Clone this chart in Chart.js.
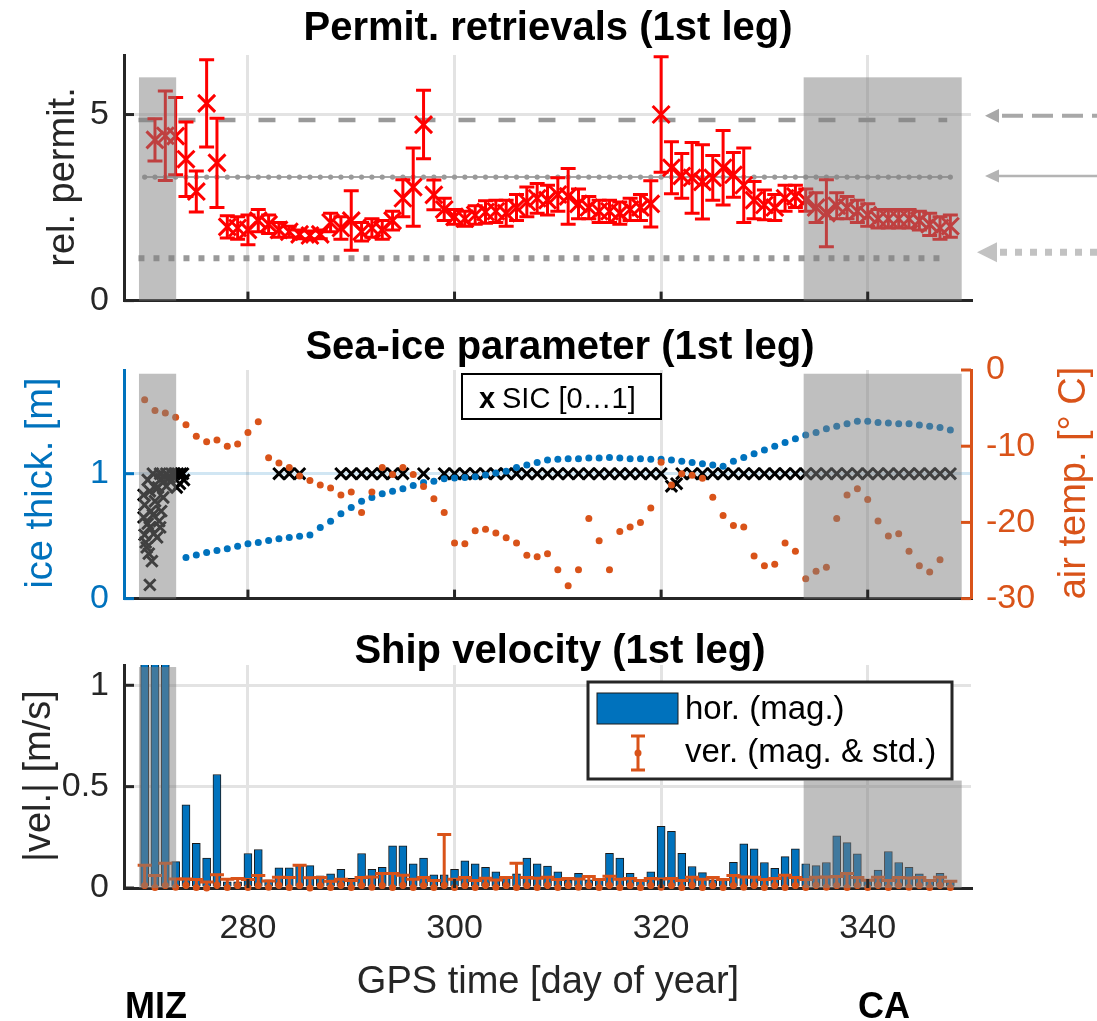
<!DOCTYPE html>
<html>
<head>
<meta charset="utf-8">
<script src="https://cdn.jsdelivr.net/npm/chart.js@4.4.0/dist/chart.umd.min.js"></script>
<style>
  html, body { margin: 0; padding: 0; background: #fff; }
  #wrap { position: relative; width: 1097px; height: 1021px; overflow: hidden; }
  canvas { position: absolute; left: 0; display: block; }
</style>
</head>
<body>
<div id="wrap">
  <canvas id="velocity" width="1097" height="401" style="top:620px"></canvas>
  <canvas id="seaice" width="1097" height="316" style="top:318px"></canvas>
  <canvas id="permit" width="1097" height="336" style="top:0"></canvas>
</div>
<script>
Chart.defaults.font.family = '"Liberation Sans", Arial, Helvetica, sans-serif';
Chart.defaults.color = '#262626';

// ---------- data ----------
const xTicks = [280, 300, 320, 340];
const mizSpan = [269.45, 273.05];
const caSpan = [333.8, 349.1];

// permittivity retrievals (top)
const permitTicks = [0, 5];
const permitDays = [271, 272, 273, 274, 275, 276, 277, 278, 279, 280,
  281, 282, 283, 284, 285, 286, 287, 288, 289, 290,
  291, 292, 293, 294, 295, 296, 297, 298, 299, 300,
  301, 302, 303, 304, 305, 306, 307, 308, 309, 310,
  311, 312, 313, 314, 315, 316, 317, 318, 319, 320,
  321, 322, 323, 324, 325, 326, 327, 328, 329, 330,
  331, 332, 333, 334, 335, 336, 337, 338, 339, 340,
  341, 342, 343, 344, 345, 346, 347, 348];
const permitValues = [4.32, 4.43, 4.42, 3.8, 2.93, 5.3, 3.7, 1.98, 1.95, 1.9,
  2.15, 2.05, 1.9, 1.85, 1.78, 1.75, 1.78, 2.1, 1.95, 2.15,
  1.85, 1.95, 1.9, 2.15, 2.75, 3.05, 4.73, 2.84, 2.45, 2.25,
  2.2, 2.3, 2.38, 2.4, 2.35, 2.5, 2.65, 2.75, 2.7, 2.85,
  2.8, 2.6, 2.5, 2.4, 2.4, 2.35, 2.45, 2.5, 2.6, 5.0,
  3.57, 3.35, 3.3, 3.19, 3.3, 3.57, 3.38, 3.1, 2.7, 2.57,
  2.5, 2.75, 2.8, 2.7, 2.5, 2.35, 2.55, 2.5, 2.4, 2.3,
  2.2, 2.2, 2.2, 2.2, 2.15, 2.05, 1.95, 2.0];
const permitErr = [0.57, 1.2, 1.04, 1.0, 0.55, 1.17, 1.2, 0.3, 0.3, 0.4,
  0.3, 0.25, 0.2, 0.15, 0.12, 0.12, 0.12, 0.25, 0.3, 0.8,
  0.25, 0.25, 0.25, 0.25, 0.5, 1.05, 0.92, 0.4, 0.3, 0.2,
  0.2, 0.25, 0.3, 0.3, 0.35, 0.35, 0.4, 0.4, 0.4, 0.45,
  0.75, 0.4, 0.3, 0.3, 0.3, 0.3, 0.3, 0.35, 0.62, 1.55,
  0.7, 0.6, 0.95, 1.0, 0.6, 1.0, 0.6, 1.0, 0.5, 0.4,
  0.35, 0.35, 0.3, 0.3, 0.4, 0.9, 0.35, 0.3, 0.3, 0.3,
  0.25, 0.25, 0.25, 0.25, 0.25, 0.3, 0.3, 0.3];
const refDashed = 4.85;
const refSolid = 3.32;
const refDotted = 1.14;
const refSpan = [269.4, 347.7];
const arrowLevels = [4.97, 3.35, 1.3];

// sea-ice parameters (middle)
const iceTicks = [0, 1];
const tempTicks = [-30, -20, -10, 0];
const tempDays = [270, 271, 272, 273, 274, 275, 276, 277, 278, 279,
  280, 281, 282, 283, 284, 285, 286, 287, 288, 289,
  290, 291, 292, 293, 294, 295, 296, 297, 298, 299,
  300, 301, 302, 303, 304, 305, 306, 307, 308, 309,
  310, 311, 312, 313, 314, 315, 316, 317, 318, 319,
  320, 321, 322, 323, 324, 325, 326, 327, 328, 329,
  330, 331, 332, 333, 334, 335, 336, 337, 338, 339,
  340, 341, 342, 343, 344, 345, 346, 347];
const tempValues = [-3.9, -5.3, -5.65, -6.2, -7.2, -8.7, -9.4, -9.2, -10.0, -9.7,
  -8.2, -6.8, -11.5, -12.2, -12.8, -13.9, -14.5, -15.1, -15.5, -16.4,
  -16.0, -18.7, -16.0, -12.8, -13.7, -12.8, -13.7, -15.3, -16.9, -18.7,
  -22.7, -22.8, -21.1, -20.9, -21.4, -22.0, -22.7, -24.3, -24.5, -24.1,
  -26.2, -28.3, -26.2, -19.5, -22.4, -26.2, -21.2, -20.6, -20.0, -18.1,
  -12.1, -15.1, -13.6, -13.8, -14.2, -16.7, -19.1, -20.4, -20.6, -24.4,
  -25.7, -25.5, -22.7, -23.8, -27.4, -26.4, -25.9, -19.5, -16.4, -15.6,
  -17.0, -19.8, -21.8, -21.5, -23.8, -25.7, -26.5, -24.9];
const iceDays = [274, 275, 276, 277, 278, 279,
  280, 281, 282, 283, 284, 285, 286, 287, 288, 289,
  290, 291, 292, 293, 294, 295, 296, 297, 298, 299,
  300, 301, 302, 303, 304, 305, 306, 307, 308, 309,
  310, 311, 312, 313, 314, 315, 316, 317, 318, 319,
  320, 321, 322, 323, 324, 325, 326, 327, 328, 329,
  330, 331, 332, 333, 334, 335, 336, 337, 338, 339,
  340, 341, 342, 343, 344, 345, 346, 347, 348];
const iceValues = [0.33, 0.35, 0.37, 0.385, 0.40, 0.42,
  0.44, 0.45, 0.465, 0.48, 0.49, 0.50, 0.51, 0.57, 0.62, 0.68,
  0.73, 0.78, 0.81, 0.84, 0.86, 0.88, 0.905, 0.93, 0.94, 0.96,
  0.965, 0.97, 0.975, 0.99, 1.005, 1.02, 1.05, 1.07, 1.09, 1.11,
  1.115, 1.12, 1.12, 1.125, 1.125, 1.13, 1.125, 1.12, 1.12, 1.115,
  1.115, 1.11, 1.10, 1.09, 1.08, 1.07, 1.06, 1.10, 1.13, 1.16,
  1.19, 1.22, 1.25, 1.28, 1.31, 1.33, 1.36, 1.38, 1.40, 1.42,
  1.42, 1.41, 1.405, 1.40, 1.40, 1.39, 1.38, 1.37, 1.35];
const sicDays = [269.9, 269.9, 270.0, 270.0, 270.1, 270.2, 270.3, 270.3, 270.4, 270.5,
  270.5, 270.5, 270.6, 270.7, 270.8, 270.8, 270.9, 271.0, 271.1, 271.2,
  271.3, 271.4, 271.5, 271.5, 271.6, 271.6, 271.8, 271.9, 272.1, 272.1,
  272.4, 272.5, 272.6, 272.9, 273.1, 273.2, 273.4, 273.5, 273.7, 273.8,
  283, 284, 285, 289, 290, 291, 292, 293, 294, 295, 297,
  299, 300, 301, 302, 303, 304, 305, 306, 307, 308, 309,
  310, 311, 312, 313, 314, 315, 316, 317, 318, 319, 320,
  321, 321.5, 322, 323, 324, 325, 326, 327, 328, 329,
  330, 331, 332, 333, 334, 335, 336, 337, 338, 339,
  340, 341, 342, 343, 344, 345, 346, 347, 348];
const sicValues = [0.83, 0.65, 0.75, 0.51, 0.45, 0.41, 0.95, 0.60, 0.36, 0.86,
  0.57, 0.11, 0.70, 0.30, 1.0, 0.67, 0.52, 0.78, 0.88, 0.49,
  0.89, 0.62, 1.0, 0.57, 0.96, 0.70, 0.81, 0.98, 1.0, 0.90,
  0.97, 0.94, 1.0, 1.0, 0.89, 1.0, 0.92, 1.0, 1.0, 0.95,
  1, 1, 1, 1, 1, 1, 1, 1, 1, 1, 1,
  1, 1, 1, 1, 1, 1, 1, 1, 1, 1, 1,
  1, 1, 1, 1, 1, 1, 1, 1, 1, 1, 1,
  0.9, 0.92, 1, 1, 1, 1, 1, 1, 1, 1,
  1, 1, 1, 1, 1, 1, 1, 1, 1, 1,
  1, 1, 1, 1, 1, 1, 1, 1, 1];

// ship velocity (bottom)
const velTicks = [0, 0.5, 1];
const velDays = [270, 271, 272, 273, 274, 275, 276, 277, 278, 279,
  280, 281, 282, 283, 284, 285, 286, 287, 288, 289,
  290, 291, 292, 293, 294, 295, 296, 297, 298, 299,
  300, 301, 302, 303, 304, 305, 306, 307, 308, 309,
  310, 311, 312, 313, 314, 315, 316, 317, 318, 319,
  320, 321, 322, 323, 324, 325, 326, 327, 328, 329,
  330, 331, 332, 333, 334, 335, 336, 337, 338, 339,
  340, 341, 342, 343, 344, 345, 346, 347, 348];
const horVel = [1.5, 1.5, 1.5, 0.13, 0.41, 0.22, 0.147, 0.56, 0.03, 0.03,
  0.17, 0.19, 0.04, 0.1, 0.1, 0.11, 0.11, 0.06, 0.07, 0.092,
  0.048, 0.17, 0.092, 0.102, 0.208, 0.208, 0.119, 0.147, 0.065, 0.065,
  0.092, 0.134, 0.119, 0.102, 0.08, 0.056, 0.07, 0.147, 0.119, 0.108,
  0.08, 0.04, 0.072, 0.04, 0.04, 0.171, 0.147, 0.072, 0.04, 0.08,
  0.304, 0.28, 0.171, 0.106, 0.076, 0.04, 0.04, 0.127, 0.218, 0.193,
  0.126, 0.097, 0.155, 0.193, 0.119, 0.11, 0.126, 0.257, 0.224, 0.168,
  0.04, 0.089, 0.18, 0.126, 0.102, 0.07, 0.043, 0.072, 0.032];
const verVel = [0.012, 0.002, 0.012, 0.004, 0.014, 0.002, 0.0, 0.015, 0.003, 0.012,
  0.002, 0.012, 0.004, 0.013, 0.002, 0.012, 0.0, 0.012, 0.003, 0.013,
  0.002, 0.012, 0.004, 0.012, 0.002, 0.013, 0.003, 0.012, 0.002, 0.014,
  0.003, 0.012, 0.002, 0.013, 0.004, 0.012, 0.002, 0.012, 0.003, 0.013,
  0.002, 0.012, 0.004, 0.012, 0.002, 0.013, 0.003, 0.012, 0.002, 0.012,
  0.004, 0.012, 0.002, 0.013, 0.003, 0.012, 0.002, 0.012, 0.004, 0.013,
  0.002, 0.012, 0.003, 0.012, 0.002, 0.013, 0.004, 0.012, 0.002, 0.012,
  0.003, 0.013, 0.002, 0.012, 0.004, 0.012, 0.002, 0.013, 0.003];
const verStd = [0.10, 0.06, 0.11, 0.04, 0.03, 0.04, 0.03, 0.05, 0.04, 0.035,
  0.04, 0.05, 0.03, 0.04, 0.05, 0.1, 0.05, 0.04, 0.03, 0.03,
  0.035, 0.04, 0.05, 0.06, 0.07, 0.05, 0.04, 0.04, 0.035, 0.25,
  0.04, 0.04, 0.035, 0.035, 0.035, 0.04, 0.12, 0.04, 0.045, 0.04,
  0.04, 0.035, 0.04, 0.045, 0.04, 0.045, 0.04, 0.035, 0.035, 0.035,
  0.04, 0.035, 0.035, 0.04, 0.04, 0.04, 0.04, 0.05, 0.05, 0.04,
  0.04, 0.035, 0.06, 0.04, 0.04, 0.04, 0.05, 0.045, 0.07, 0.04,
  0.035, 0.04, 0.035, 0.04, 0.045, 0.04, 0.035, 0.04, 0.03];

// ---------- helpers ----------
const AX = '#262626';
const GRID = '#e3e3e3';
const BLUE = '#0072BD';
const ORANGE = '#D95319';
const pts = (xs, ys) => xs.map((x, i) => ({ x, y: ys[i] }));
const setTicks = list => s => { s.ticks = list.map(v => ({ value: v })); };

function xAxis(showLabels, height) {
  return {
    type: 'linear', min: 268, max: 350, offset: false,
    afterBuildTicks: setTicks(xTicks),
    afterFit: s => { s.height = height; },
    grid: { color: GRID, lineWidth: 3, drawTicks: false, offset: false, z: -1 },
    border: { color: AX, width: 3 },
    ticks: { display: showLabels, font: { size: 34 }, color: AX, padding: 20, maxRotation: 0 },
  };
}

function yAxis(min, max, ticks, color, gridColor, width, position) {
  return {
    type: 'linear', min, max, position: position || 'left',
    afterBuildTicks: setTicks(ticks),
    afterFit: s => { s.width = width; },
    grid: gridColor ? { color: gridColor, lineWidth: 3, drawTicks: false, z: -1 } : { display: false, drawTicks: false },
    border: { color, width: 3 },
    ticks: { font: { size: 34 }, color, padding: 15, callback: v => String(v) },
  };
}

// error bars drawn right after their own dataset
const errorBars = {
  id: 'errorBars',
  afterDatasetDraw(chart, args) {
    const ds = chart.data.datasets[args.index];
    if (!ds.errors) return;
    const { ctx, chartArea: a } = chart;
    const xs = chart.scales.x, ys = chart.scales[ds.yAxisID || 'y'];
    ctx.save();
    ctx.beginPath();
    ctx.rect(a.left, a.top - 2, a.width, a.height + 3);
    ctx.clip();
    ctx.strokeStyle = ds.borderColor;
    ctx.lineWidth = ds.errWidth;
    ds.data.forEach((p, i) => {
      const x = xs.getPixelForValue(p.x);
      const hi = ys.getPixelForValue(p.y + ds.errors[i]);
      const lo = ys.getPixelForValue(p.y - ds.errors[i]);
      ctx.beginPath();
      ctx.moveTo(x, hi); ctx.lineTo(x, lo);
      ctx.moveTo(x - ds.capHalf, hi); ctx.lineTo(x + ds.capHalf, hi);
      ctx.moveTo(x - ds.capHalf, lo); ctx.lineTo(x + ds.capHalf, lo);
      ctx.stroke();
    });
    ctx.restore();
  }
};

function shade(boxes) {
  return {
    id: 'shade',
    afterDatasetsDraw(chart) {
      const { ctx, scales: { x, y } } = chart;
      ctx.save();
      ctx.fillStyle = 'rgba(128,128,128,0.5)';
      boxes.forEach(b => {
        const l = x.getPixelForValue(b.span[0]), r = x.getPixelForValue(b.span[1]);
        const t = y.getPixelForValue(b.top), btm = y.getPixelForValue(y.min);
        ctx.fillRect(l, t, r - l, btm - t);
      });
      ctx.restore();
    }
  };
}

function inwardTicks(axes) {
  return {
    id: 'inwardTicks',
    afterDraw(chart) {
      const { ctx, chartArea: a } = chart;
      ctx.save();
      ctx.lineWidth = 3;
      axes.forEach(({ id, color }) => {
        const s = chart.scales[id];
        ctx.strokeStyle = color;
        s.ticks.forEach(t => {
          const p = s.getPixelForValue(t.value);
          ctx.beginPath();
          if (s.position === 'bottom') { ctx.moveTo(p, a.bottom); ctx.lineTo(p, a.bottom - 9); }
          else if (s.position === 'left') { ctx.moveTo(a.left, p); ctx.lineTo(a.left + 10, p); }
          else { ctx.moveTo(a.right, p); ctx.lineTo(a.right - 10, p); }
          ctx.stroke();
        });
      });
      ctx.restore();
    }
  };
}

function canvasText(items) {
  return {
    id: 'canvasText',
    afterDraw(chart) {
      const ctx = chart.ctx;
      items.forEach(t => {
        ctx.save();
        ctx.font = t.font;
        ctx.fillStyle = t.color || AX;
        ctx.textAlign = t.align || 'center';
        ctx.textBaseline = t.baseline || 'alphabetic';
        ctx.translate(t.x, t.y);
        if (t.rotate) ctx.rotate(t.rotate);
        ctx.fillText(t.text, 0, 0);
        ctx.restore();
      });
    }
  };
}

const baseOptions = padding => ({
  responsive: false,
  animation: false,
  events: [],
  layout: { padding },
  plugins: { legend: { display: false }, tooltip: { enabled: false }, title: { display: false } },
});

// ---------- top: permittivity ----------
const refArrows = {
  id: 'refArrows',
  afterDraw(chart) {
    const { ctx, chartArea: a, scales: { y } } = chart;
    const styles = [
      { dash: [21, 9], width: 4, color: '#a8a8a8', gap: 14, len: 14, half: 7 },
      { dash: [], width: 2.5, color: '#b4b4b4', gap: 14, len: 14, half: 6.5 },
      { dash: [7, 8], width: 7, color: '#c2c2c2', gap: 6, len: 20, half: 10 },
    ];
    arrowLevels.forEach((lvl, i) => {
      const s = styles[i];
      const py = y.getPixelForValue(lvl);
      const tip = a.right + s.gap, base = tip + s.len;
      ctx.save();
      ctx.fillStyle = s.color;
      ctx.beginPath();
      ctx.moveTo(tip, py); ctx.lineTo(base, py - s.half); ctx.lineTo(base, py + s.half);
      ctx.closePath(); ctx.fill();
      ctx.strokeStyle = s.color;
      ctx.lineWidth = s.width;
      ctx.setLineDash(s.dash);
      ctx.beginPath();
      ctx.moveTo(base + (s.dash.length ? 3 : 0), py); ctx.lineTo(chart.width, py);
      ctx.stroke();
      ctx.restore();
    });
  }
};

new Chart(document.getElementById('permit'), {
  type: 'line',
  data: {
    datasets: [
      { data: pts(permitDays, permitValues), errors: permitErr, errWidth: 3, capHalf: 7.5,
        showLine: false, borderColor: '#ff0000', backgroundColor: '#ff0000',
        pointStyle: 'crossRot', pointRadius: 12, pointBorderWidth: 3 },
      { data: velDays.map(d => ({ x: d, y: refSolid })), borderColor: '#a6a6a6', borderWidth: 2,
        pointRadius: 2.6, pointBackgroundColor: '#9a9a9a', pointBorderWidth: 0 },
      { data: refSpan.map(d => ({ x: d, y: refDashed })), borderColor: '#999999', borderWidth: 4.5,
        borderDash: [17, 23], pointRadius: 0 },
      { data: refSpan.map(d => ({ x: d, y: refDotted })), borderColor: '#999999', borderWidth: 6,
        borderDash: [6, 9], pointRadius: 0 },
    ]
  },
  options: {
    ...baseOptions({ top: 55, right: 126, bottom: 0, left: 0 }),
    scales: {
      x: xAxis(false, 0),
      y: yAxis(0, 6.6, permitTicks, AX, GRID, 124),
    }
  },
  plugins: [
    errorBars,
    shade([{ span: mizSpan, top: 6.0 }, { span: caSpan, top: 6.0 }]),
    inwardTicks([{ id: 'x', color: AX }, { id: 'y', color: AX }]),
    refArrows,
    canvasText([
      { text: 'Permit. retrievals (1st leg)', x: 548, y: 40, font: 'bold 40px "Liberation Sans", Arial', color: '#000' },
      { text: 'rel. permit.', x: 64, y: 177, font: '38px "Liberation Sans", Arial', baseline: 'middle', rotate: -Math.PI / 2 },
    ]),
  ]
});

// ---------- middle: sea-ice ----------
const sicLegend = {
  id: 'sicLegend',
  afterDraw(chart) {
    const { ctx, chartArea: a } = chart;
    const left = 462, top = a.top + 4, w = 199, h = 45;
    ctx.save();
    ctx.fillStyle = '#fff';
    ctx.fillRect(left, top, w, h);
    ctx.strokeStyle = '#000';
    ctx.lineWidth = 2;
    ctx.strokeRect(left, top, w, h);
    ctx.fillStyle = '#000';
    ctx.textBaseline = 'alphabetic';
    ctx.font = 'bold 29px "Liberation Sans", Arial';
    ctx.fillText('x', left + 17, top + 34);
    ctx.font = '29px "Liberation Sans", Arial';
    ctx.fillText('SIC [0\u20261]', left + 40, top + 34);
    ctx.restore();
  }
};

new Chart(document.getElementById('seaice'), {
  type: 'line',
  data: {
    datasets: [
      { data: pts(tempDays, tempValues), yAxisID: 'y2', showLine: false,
        borderColor: ORANGE, backgroundColor: ORANGE, pointRadius: 3.5, pointBorderWidth: 0 },
      { data: pts(iceDays, iceValues), yAxisID: 'y', showLine: false,
        borderColor: BLUE, backgroundColor: BLUE, pointRadius: 3.5, pointBorderWidth: 0 },
      { data: pts(sicDays, sicValues), yAxisID: 'y', showLine: false,
        borderColor: '#000', backgroundColor: '#000', pointStyle: 'crossRot', pointRadius: 8, pointBorderWidth: 3 },
    ]
  },
  options: {
    ...baseOptions({ top: 52, right: 0, bottom: 0, left: 0 }),
    scales: {
      x: xAxis(false, 0),
      y: yAxis(0, 1.83, iceTicks, BLUE, 'rgba(0,114,189,0.18)', 124),
      y2: yAxis(-30, 0, tempTicks, ORANGE, null, 126, 'right'),
    }
  },
  plugins: [
    shade([{ span: mizSpan, top: 1.8 }, { span: caSpan, top: 1.8 }]),
    inwardTicks([{ id: 'x', color: AX }, { id: 'y', color: BLUE }, { id: 'y2', color: ORANGE }]),
    sicLegend,
    canvasText([
      { text: 'Sea-ice parameter (1st leg)', x: 560, y: 41, font: 'bold 40px "Liberation Sans", Arial', color: '#000' },
      { text: 'ice thick. [m]', x: 42, y: 165, font: '38px "Liberation Sans", Arial', color: BLUE, baseline: 'middle', rotate: -Math.PI / 2 },
      { text: 'air temp. [\u00b0 C]', x: 1075, y: 165, font: '38px "Liberation Sans", Arial', color: ORANGE, baseline: 'middle', rotate: -Math.PI / 2 },
    ]),
  ]
});

// ---------- bottom: ship velocity ----------
const velLegend = {
  id: 'velLegend',
  afterDraw(chart) {
    const { ctx, chartArea: a } = chart;
    const left = 588, top = a.top + 17, w = 364, h = 97;
    ctx.save();
    ctx.fillStyle = '#fff';
    ctx.fillRect(left, top, w, h);
    ctx.strokeStyle = AX;
    ctx.lineWidth = 3;
    ctx.strokeRect(left, top, w, h);
    ctx.fillStyle = BLUE;
    ctx.fillRect(left + 9, top + 11, 81, 31);
    ctx.strokeStyle = '#1a1a1a';
    ctx.lineWidth = 1;
    ctx.strokeRect(left + 9, top + 11, 81, 31);
    const cx = left + 50, c2 = top + 71;
    ctx.strokeStyle = ORANGE;
    ctx.lineWidth = 3;
    ctx.beginPath();
    ctx.moveTo(cx, c2 - 17); ctx.lineTo(cx, c2 + 17);
    ctx.moveTo(cx - 7, c2 - 17); ctx.lineTo(cx + 7, c2 - 17);
    ctx.moveTo(cx - 7, c2 + 17); ctx.lineTo(cx + 7, c2 + 17);
    ctx.stroke();
    ctx.fillStyle = ORANGE;
    ctx.beginPath(); ctx.arc(cx, c2, 3.5, 0, Math.PI * 2); ctx.fill();
    ctx.fillStyle = '#000';
    ctx.font = '33px "Liberation Sans", Arial';
    ctx.textBaseline = 'middle';
    ctx.fillText('hor. (mag.)', left + 97, top + 28);
    ctx.fillText('ver. (mag. & std.)', left + 97, c2);
    ctx.restore();
  }
};

new Chart(document.getElementById('velocity'), {
  type: 'bar',
  data: {
    datasets: [
      { type: 'line', data: pts(velDays, verVel), errors: verStd, errWidth: 3, capHalf: 7,
        showLine: false, borderColor: ORANGE, backgroundColor: ORANGE, pointRadius: 3.5, pointBorderWidth: 0,
        clip: { left: 5, right: 5, top: 5, bottom: 8 } },
      { type: 'bar', data: pts(velDays, horVel), backgroundColor: BLUE, borderColor: '#1a1a1a',
        borderWidth: 1, barThickness: 8 },
    ]
  },
  options: {
    ...baseOptions({ top: 45, right: 126, bottom: 0, left: 0 }),
    scales: {
      x: xAxis(true, 133),
      y: yAxis(0, 1.1, velTicks, AX, GRID, 124),
    }
  },
  plugins: [
    errorBars,
    shade([{ span: mizSpan, top: 1.09 }, { span: caSpan, top: 0.53 }]),
    inwardTicks([{ id: 'x', color: AX }, { id: 'y', color: AX }]),
    velLegend,
    canvasText([
      { text: 'Ship velocity (1st leg)', x: 560, y: 43, font: 'bold 40px "Liberation Sans", Arial', color: '#000' },
      { text: '|vel.| [m/s]', x: 40, y: 156, font: '38px "Liberation Sans", Arial', baseline: 'middle', rotate: -Math.PI / 2 },
      { text: 'GPS time [day of year]', x: 548, y: 373, font: '38px "Liberation Sans", Arial' },
      { text: 'MIZ', x: 125, y: 398, font: 'bold 36px "Liberation Sans", Arial', color: '#000', align: 'left' },
      { text: 'CA', x: 884, y: 398, font: 'bold 36px "Liberation Sans", Arial', color: '#000' },
    ]),
  ]
});
</script>
</body>
</html>
